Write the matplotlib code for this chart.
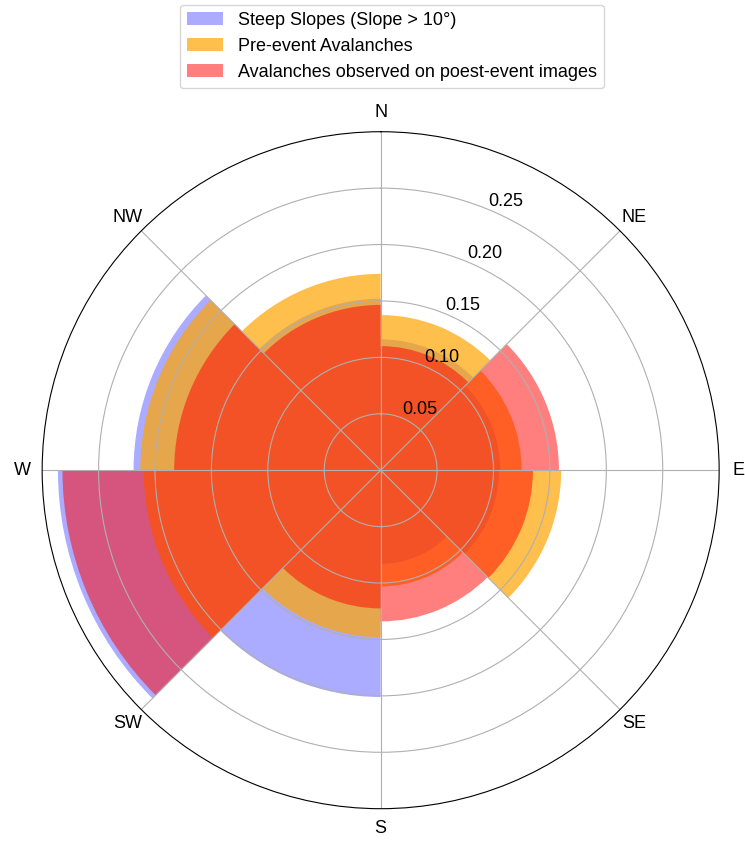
import numpy as np
import matplotlib.pyplot as plt

plt.rcParams['font.family'] = ['Liberation Sans', 'DejaVu Sans']

# aspect sectors, clockwise from N (bar drawn from the direction to the next one)
directions = ['N', 'NE', 'E', 'SE', 'S', 'SW', 'W', 'NW']
steep_slopes = [0.116, 0.106, 0.105, 0.083, 0.201, 0.286, 0.219, 0.152]
pre_event = [0.1375, 0.125, 0.160, 0.103, 0.148, 0.210, 0.213, 0.174]
post_event = [0.110, 0.158, 0.135, 0.134, 0.1225, 0.282, 0.183, 0.1465]
r_ticks = [0.05, 0.10, 0.15, 0.20, 0.25]

theta = np.deg2rad(np.arange(0, 360, 45))
width = np.deg2rad(45)

fig = plt.figure(figsize=(7.45, 8.41), dpi=100)
ax = fig.add_axes([0.0566, 0.0384, 0.9087, 0.805], projection='polar')
ax.set_theta_zero_location('N')
ax.set_theta_direction(-1)

ax.bar(theta, steep_slopes, width=width, align='edge', color='blue', alpha=0.33,
       label='Steep Slopes (Slope > 10°)')
ax.bar(theta, pre_event, width=width, align='edge', color='orange', alpha=0.7,
       label='Pre-event Avalanches')
ax.bar(theta, post_event, width=width, align='edge', color='red', alpha=0.5,
       label='Avalanches observed on poest-event images')

ax.set_xticks(theta)
ax.set_xticklabels(directions, fontsize=13)
ax.set_ylim(0, 0.3)
ax.set_yticks(r_ticks)
ax.set_yticklabels([f'{t:.2f}' for t in r_ticks], fontsize=13)

fig.legend(loc='upper center', bbox_to_anchor=(0.526, 1.005), fontsize=13)

plt.savefig('out.png', dpi=100)
